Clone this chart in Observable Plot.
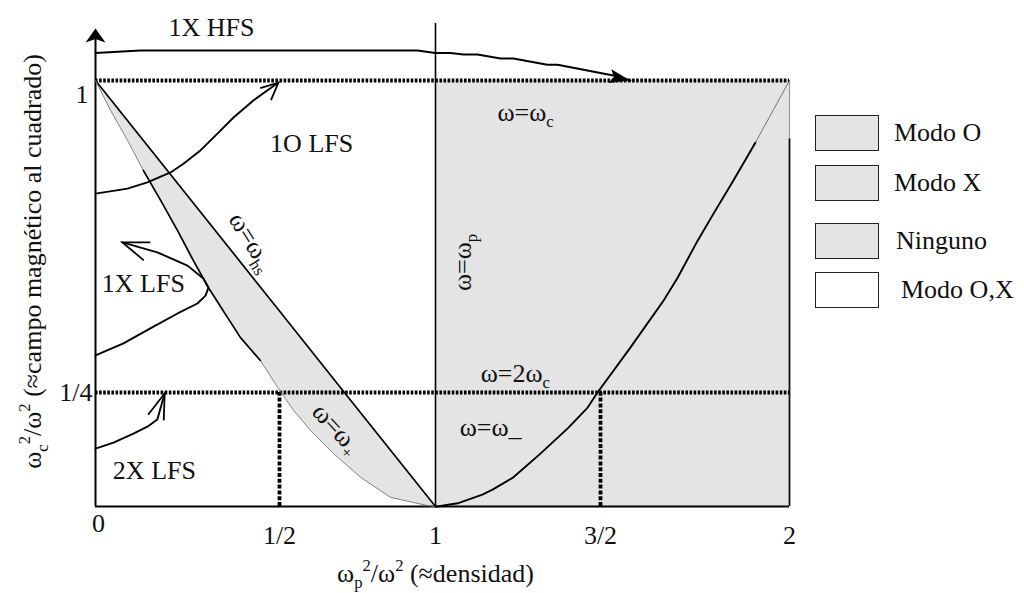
<!DOCTYPE html>
<html><head><meta charset="utf-8">
<script src="https://cdn.jsdelivr.net/npm/d3@7"></script>
<script src="https://cdn.jsdelivr.net/npm/@observablehq/plot@0.6"></script>
<style>
body{margin:0;background:#fff;font-family:'Liberation Serif',serif;}
#wrap{position:relative;width:1024px;height:593px;overflow:hidden;}
#wrap svg{position:absolute;left:0;top:0;z-index:0;}
#legend{position:absolute;left:815px;top:115px;width:209px;height:200px;z-index:2;}
.item{position:absolute;left:0;display:flex;align-items:center;white-space:nowrap;font-size:26px;color:#111;font-family:'Liberation Serif',serif;}
.sw{width:62px;height:34px;border:1.7px solid #222;}
</style></head><body><div id="wrap"><div id="legend"></div></div>
<script>
// ---------- data ----------
const xTicks = [0, 0.5, 1, 1.5, 2];
const xTickLabels = ["0", "1/2", "1", "3/2", "2"];
const yTicks = [0.25, 1];
const yTickLabels = ["1/4", "1"];
const xTitle = "ω_{p}^{2}/ω^{2} (≈densidad)";
const yTitle = "ω_{c}^{2}/ω^{2} (≈campo magnético al cuadrado)";

// ω = ω_hs (upper hybrid) line
const hybridX = [0, 0.5, 0.708, 1];
const hybridY = [1, 0.446, 0.25, 0];
// ω = ω+ cutoff
const rCutX = [0, 0.041, 0.087, 0.130, 0.177, 0.223, 0.266, 0.307, 0.359, 0.394, 0.448, 0.495, 0.545, 0.599, 0.673, 0.760, 0.856, 0.974, 1];
const rCutY = [1, 0.928, 0.856, 0.784, 0.712, 0.639, 0.567, 0.502, 0.430, 0.382, 0.327, 0.262, 0.211, 0.167, 0.116, 0.064, 0.020, 0.002, 0];
// ω = ω_ cutoff
const lCutX = [1, 1.006, 1.067, 1.142, 1.173, 1.236, 1.318, 1.403, 1.461, 1.491, 1.579, 1.667, 1.704, 1.757, 1.799, 1.852, 1.910, 2];
const lCutY = [0, 0, 0.007, 0.026, 0.037, 0.064, 0.116, 0.173, 0.217, 0.25, 0.358, 0.471, 0.526, 0.615, 0.680, 0.760, 0.851, 1];
// access paths
const hfs1XX = [0, 0.122, 0.567, 0.942, 1, 1.045, 1.085, 1.127, 1.197, 1.236, 1.339, 1.370, 1.534, 1.579];
const hfs1XY = [1.066, 1.072, 1.072, 1.072, 1.066, 1.066, 1.0625, 1.0625, 1.053, 1.053, 1.038, 1.038, 1.012, 1.0];
const lfs1OX = [0, 0.087, 0.141, 0.204, 0.239, 0.285, 0.332, 0.375, 0.429, 0.497];
const lfs1OY = [0.728, 0.740, 0.755, 0.779, 0.800, 0.832, 0.873, 0.911, 0.952, 0.995];
const lfs1XX = [0, 0.076, 0.149, 0.223, 0.277, 0.299, 0.307, 0.293, 0.250, 0.168, 0.073];
const lfs1XY = [0.339, 0.368, 0.404, 0.440, 0.464, 0.483, 0.502, 0.524, 0.555, 0.587, 0.611];
const lfs2XX = [0, 0.049, 0.103, 0.141, 0.168, 0.188];
const lfs2XY = [0.127, 0.140, 0.160, 0.175, 0.191, 0.248];

const resonanceLevels = [1, 0.25];      // ω=ωc, ω=2ωc
const crossingX = [0.5, 1.5];           // where cutoffs meet ω=2ωc
const plasmaLine = [1];                 // ω=ωp
const shadedX = [1, 2], shadedY = [0, 1];
const yAxisTop = 1.125, plasmaTop = 1.137, edgeFade = 0.86;

const labelTexts = ["1X HFS", "1O LFS", "1X LFS", "2X LFS", "ω=ω_{c}", "ω=2ω_{c}", "ω=ω_", "ω=ω_{p}", "ω=ω_{hs}", "ω=ω_{+}"];
const labelX = [0.315, 0.603, 0.130, 0.160, 1.273, 1.242, 1.167, 1.082, 0.425, 0.683];
const labelY = [1.127, 0.849, 0.512, 0.079, 0.923, 0.296, 0.173, 0.5625, 0.612, 0.171];

const legendLabels = ["Modo O", "Modo X", "Ninguno", "Modo O,X"];
const legendShaded = [true, true, true, false];

// ---------- styles ----------
const grey = "#e4e4e4";
const FONT = "'Liberation Serif', serif";
const labelRot = [0, 0, 0, 0, 0, 0, 0, -90, 58, 47];
const pts = (xs, ys) => xs.map((x, i) => ({x, y: ys[i]}));

function rot(px, py, deg) {
  const t = deg * Math.PI / 180;
  return [px * Math.cos(t) - py * Math.sin(t), px * Math.sin(t) + py * Math.cos(t)];
}
function chevron(half, deg) {
  const a = half * Math.PI / 180;
  return {draw(ctx, size) {
    const r = Math.sqrt(size / Math.PI);
    const p1 = rot(-r * Math.sin(a), r * Math.cos(a), deg);
    const p2 = rot(r * Math.sin(a), r * Math.cos(a), deg);
    ctx.moveTo(p1[0], p1[1]); ctx.lineTo(0, 0); ctx.lineTo(p2[0], p2[1]);
  }};
}
function head(wr, notch, deg) {
  return {draw(ctx, size) {
    const L = Math.sqrt(size / Math.PI);
    const q = [[0, 0], [-wr * L, L], [0, notch * L], [wr * L, L]].map(p => rot(p[0], p[1], deg));
    ctx.moveTo(q[0][0], q[0][1]);
    for (let i = 1; i < q.length; i++) ctx.lineTo(q[i][0], q[i][1]);
    ctx.closePath();
  }};
}

const rCut = pts(rCutX, rCutY);
const lCut = pts(lCutX, lCutY);
const hybrid = pts(hybridX, hybridY);
const sliver = [...rCut, ...hybrid.slice().reverse()];
const hfs1X = pts(hfs1XX, hfs1XY);
const lfs1O = pts(lfs1OX, lfs1OY);
const lfs1X = pts(lfs1XX, lfs1XY);
const lfs2X = pts(lfs2XX, lfs2XY);
const last = a => [a[a.length - 1]];
const idx = labelTexts.map((_, i) => i);

const dotted = {stroke: "#000", strokeWidth: 3.8, strokeDasharray: "2.6,1.5"};
const T = {fontSize: 26, fontFamily: FONT, fill: "#111"};

const svg = Plot.plot({
  width: 1024, height: 593,
  marginTop: 0, marginRight: 0, marginBottom: 0, marginLeft: 0,
  x: {type: "linear", domain: xTicks, range: [95, 279, 435, 600, 789], axis: null},
  y: {type: "linear", domain: [0, 0.25, 1], range: [506, 392, 80], axis: null},
  style: {fontFamily: FONT, background: "white"},
  marks: [
    Plot.rect([0], {x1: () => shadedX[0], x2: () => shadedX[1], y1: () => shadedY[0], y2: () => shadedY[1], fill: grey}),
    Plot.line(sliver, {x: "x", y: "y", fill: grey, stroke: "none"}),
    // frame lines
    Plot.ruleY([0], {x1: () => xTicks[0], x2: () => xTicks[4], stroke: "#000", strokeWidth: 2}),
    Plot.ruleX([0], {y1: () => 0, y2: () => yAxisTop - 0.015, stroke: "#000", strokeWidth: 2}),
    Plot.ruleX(plasmaLine, {y1: () => 0, y2: () => plasmaTop, stroke: "#000", strokeWidth: 1.6}),
    Plot.ruleX([2], {y1: () => 0, y2: () => edgeFade, stroke: "#111", strokeWidth: 1.8}),
    Plot.ruleX([2], {y1: () => edgeFade, y2: () => 1, stroke: "#999", strokeWidth: 1.2}),
    // dotted levels
    Plot.ruleY(resonanceLevels, {x1: () => 0, x2: () => 2, ...dotted}),
    Plot.ruleX(crossingX, {y1: () => 0, y2: () => 0.25, stroke: "#000", strokeWidth: 3.8, strokeDasharray: "4,1.8"}),
    // boundaries
    Plot.line(hybrid, {x: "x", y: "y", stroke: "#000", strokeWidth: 1.7}),
    Plot.line(rCut, {x: "x", y: "y", stroke: "#777", strokeWidth: 0.9}),
    Plot.line(rCut.filter(d => d.x >= 0.13 && d.x <= 0.45), {x: "x", y: "y", stroke: "#000", strokeWidth: 1.7}),
    Plot.line(lCut.filter(d => d.x <= 1.91), {x: "x", y: "y", stroke: "#000", strokeWidth: 1.9}),
    Plot.line(lCut.filter(d => d.x >= 1.91), {x: "x", y: "y", stroke: "#666", strokeWidth: 0.9}),
    // access paths
    Plot.line(hfs1X, {x: "x", y: "y", stroke: "#000", strokeWidth: 2}),
    Plot.line(lfs1O, {x: "x", y: "y", stroke: "#000", strokeWidth: 1.9}),
    Plot.line(lfs1X, {x: "x", y: "y", stroke: "#000", strokeWidth: 1.9}),
    Plot.line(lfs2X, {x: "x", y: "y", stroke: "#000", strokeWidth: 1.9}),
    // arrowheads
    Plot.dot([{x: 0, y: yAxisTop}], {x: "x", y: "y", r: 14, symbol: head(0.71, 0.75, 0), fill: "#000", stroke: "none"}),
    Plot.dot(last(hfs1X), {x: "x", y: "y", r: 21, symbol: head(0.33, 0.8, 102), fill: "#000", stroke: "none"}),
    Plot.dot(last(lfs1O), {x: "x", y: "y", r: 19, symbol: chevron(25, 48), fill: "none", stroke: "#000", strokeWidth: 1.8}),
    Plot.dot(last(lfs1X), {x: "x", y: "y", r: 28, symbol: chevron(20, -70), fill: "none", stroke: "#000", strokeWidth: 1.8}),
    Plot.dot(last(lfs2X), {x: "x", y: "y", r: 27, symbol: chevron(18, 20), fill: "none", stroke: "#000", strokeWidth: 1.8}),
    // tick labels
    Plot.text(xTicks.slice(0, 1), {x: d => d, y: () => 0, text: (d, i) => xTickLabels[i], dx: 3, dy: 17, ...T}),
    Plot.text(xTicks.slice(1), {x: d => d, y: () => 0, text: (d, i) => xTickLabels[i + 1], dy: 29, ...T}),
    Plot.text(yTicks.slice(0, 1), {x: () => 0, y: d => d, text: (d, i) => yTickLabels[i], textAnchor: "end", dx: -3, ...T}),
    Plot.text(yTicks.slice(1), {x: () => 0, y: d => d, text: (d, i) => yTickLabels[i + 1], textAnchor: "end", dx: -7, dy: 14, ...T}),
    // axis titles
    Plot.text([xTitle], {x: () => 1, y: () => 0, text: d => d, dy: 67, ...T}),
    Plot.text([yTitle], {x: () => -0.17, y: () => 0.565, text: d => d, rotate: -90, ...T}),
    // region / curve labels
    Plot.text(idx, {x: i => labelX[i], y: i => labelY[i], text: i => labelTexts[i], rotate: i => labelRot[i], ...T})
  ]
});
document.getElementById("wrap").insertBefore(svg, document.getElementById("legend"));

// sub/superscripts
function rich(root) {
  root.querySelectorAll("text").forEach(t => {
    const s = t.textContent;
    if (!/[_^]\{/.test(s)) return;
    const fs = parseFloat(getComputedStyle(t).fontSize) || 26;
    const parts = [];
    const re = /([_^])\{([^}]*)\}/g;
    let m, pos = 0;
    while ((m = re.exec(s))) {
      if (m.index > pos) parts.push({t: s.slice(pos, m.index), k: ""});
      parts.push({t: m[2], k: m[1]});
      pos = re.lastIndex;
    }
    if (pos < s.length) parts.push({t: s.slice(pos), k: ""});
    t.textContent = "";
    let off = 0;
    parts.forEach(p => {
      const ts = document.createElementNS("http://www.w3.org/2000/svg", "tspan");
      const target = p.k === "_" ? 0.24 * fs : p.k === "^" ? -0.42 * fs : 0;
      if (target !== off) ts.setAttribute("dy", (target - off).toFixed(2));
      off = target;
      if (p.k) ts.setAttribute("font-size", (0.64 * fs).toFixed(1));
      ts.textContent = p.t;
      t.appendChild(ts);
    });
  });
}
rich(svg);

// legend
const legendTops = [0, 50, 108, 157];
const legendTextGap = [15, 15, 17, 22];
const lg = document.getElementById("legend");
legendLabels.forEach((lab, i) => {
  const it = document.createElement("div");
  it.className = "item";
  it.style.top = legendTops[i] + "px";
  const sw = document.createElement("div");
  sw.className = "sw";
  sw.style.background = legendShaded[i] ? grey : "#fff";
  const tx = document.createElement("span");
  tx.textContent = lab;
  tx.style.marginLeft = legendTextGap[i] + "px";
  it.appendChild(sw); it.appendChild(tx);
  lg.appendChild(it);
});
</script></body></html>
